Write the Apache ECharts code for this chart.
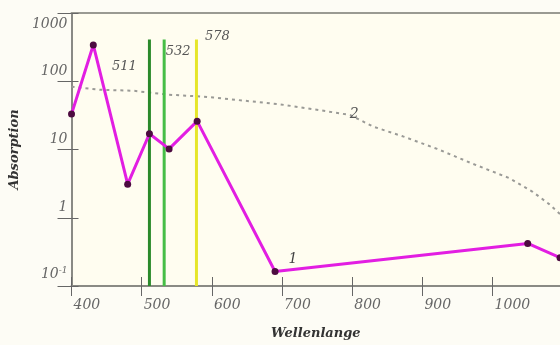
<!DOCTYPE html>
<html>
<head>
<meta charset="utf-8">
<script src="https://cdn.jsdelivr.net/npm/echarts@6/dist/echarts.min.js"></script>
<style>
html,body{margin:0;padding:0;background:#fdfcf5;overflow:hidden;}
#c{width:560px;height:345px;}
</style>
</head>
<body>
<div id="c"></div>
<script>
// Curve 1 (absorption points)
const wavelengths1 = [400, 431, 480, 511, 539, 579, 690, 1050, 1096];
const absorption1 = [33, 340, 3.1, 17, 10.2, 26, 0.163, 0.42, 0.26];
// Curve 2 (dotted)
const wavelengths2 = [400, 441, 488, 537, 584, 602, 697, 754, 797, 830, 872, 921, 968, 1024, 1057, 1081, 1096];
const absorption2 = [83, 75, 72.6, 63.7, 59.7, 57.8, 45.9, 37.7, 32, 21.6, 15.6, 10.2, 6.4, 3.8, 2.4, 1.57, 1.13];
// Laser lines
const laserWavelengths = [511, 532, 578];
const laserLabels = ['511', '532', '578'];
const laserBottom = 0.1;
const laserTop = 410;
// Axis
const xMin = 400, xMax = 1096, xStep = 100;
const yMin = 0.1, yMax = 1000;
const curveLabels = ['1', '2'];
const curve1LabelIndex = 6;
const curve2LabelIndex = 8;

const labelFont = 'DejaVu Serif';
const laserColors = ['#2b8a2b', '#46be46', '#e6e62a'];
const laserLabelOffsets = [[-25, 27], [14, 12], [21, -3]];

const chart = echarts.init(document.getElementById('c'), null, {renderer: 'canvas', width: 560, height: 345});

const laserSeries = laserWavelengths.map((w, i) => ({
  type: 'line',
  xAxisIndex: 0, yAxisIndex: 0,
  data: [[w, laserBottom], {value: [w, laserTop], label: {
    show: true, formatter: laserLabels[i], position: 'inside', offset: laserLabelOffsets[i],
    fontFamily: labelFont, fontStyle: 'italic', fontSize: 13, color: '#555'
  }}],
  showSymbol: true, symbol: 'circle', symbolSize: 0,
  lineStyle: {color: laserColors[i], width: 3},
  itemStyle: {color: laserColors[i]},
  silent: true, animation: false, z: 3
}));

const option = {
  animation: false,
  backgroundColor: '#fdfcf5',
  grid: {left: 71, top: 13, width: 489, height: 281, show: true, backgroundColor: '#fffdf0', borderWidth: 0},
  xAxis: [{
    type: 'value', min: xMin, max: xMax, interval: xStep,
    name: 'Wellenlange', nameLocation: 'middle', nameGap: 41,
    nameTextStyle: {fontFamily: labelFont, fontStyle: 'italic', fontWeight: 'bold', fontSize: 13, color: '#333'},
    axisLine: {lineStyle: {color: '#8a8a84', width: 2}},
    axisTick: {show: true, inside: false, length: 10, lineStyle: {color: '#666', width: 1}},
    axisLabel: {
      formatter: v => (v % 100 === 0 ? String(v) : ''), showMaxLabel: false,
      align: 'left', margin: 12, padding: [0, 0, 0, 2],
      fontFamily: labelFont, fontStyle: 'italic', fontSize: 14, color: '#666'
    },
    splitLine: {show: false}
  }, {
    type: 'value', min: xMin, max: xMax, interval: xStep, position: 'bottom',
    axisLine: {show: false},
    axisTick: {show: true, inside: true, length: 9, lineStyle: {color: '#666', width: 1}},
    axisLabel: {show: false}, splitLine: {show: false}
  }, {
    type: 'value', min: xMin, max: xMax, interval: xStep, position: 'top',
    axisLine: {show: true, lineStyle: {color: '#9a9a92', width: 2}},
    axisTick: {show: false}, axisLabel: {show: false}, splitLine: {show: false}
  }],
  yAxis: [{
    type: 'log', logBase: 10, min: yMin, max: yMax,
    name: 'Absorption', nameLocation: 'middle', nameGap: 42, nameRotate: 90,
    nameTextStyle: {fontFamily: labelFont, fontStyle: 'italic', fontWeight: 'bold', fontSize: 13, color: '#333'},
    axisLine: {lineStyle: {color: '#8a8a84', width: 2}},
    axisTick: {show: true, inside: false, length: 14, lineStyle: {color: '#666', width: 1}},
    axisLabel: {
      margin: 4, verticalAlign: 'bottom', verticalAlignMaxLabel: 'top',
      padding: [4, 0, 3, 0],
      fontFamily: labelFont, fontStyle: 'italic', fontSize: 14, color: '#666',
      formatter: v => {
        const e = Math.round(Math.log10(v));
        if (e < 0) return '10{s|' + e + '}';
        return String(Math.round(v));
      },
      rich: {s: {fontFamily: labelFont, fontStyle: 'italic', fontSize: 9, color: '#666', verticalAlign: 'top', padding: [0, 0, 8, 0]}}
    },
    splitLine: {show: false}
  }, {
    type: 'log', logBase: 10, min: yMin, max: yMax, position: 'left',
    axisLine: {show: false},
    axisTick: {show: true, inside: true, length: 7, lineStyle: {color: '#666', width: 1}},
    axisLabel: {show: false}, splitLine: {show: false}
  }],
  series: [{
    type: 'line',
    data: wavelengths2.map((w, i) => i === curve2LabelIndex ? {value: [w, absorption2[i]], label: {
      show: true, formatter: curveLabels[1], position: 'inside', offset: [4, -1],
      fontFamily: labelFont, fontStyle: 'italic', fontSize: 14, color: '#555'
    }} : [w, absorption2[i]]),
    showSymbol: true, symbol: 'circle', symbolSize: 0,
    lineStyle: {color: '#9a9a96', width: 2, type: [3, 4]},
    itemStyle: {color: '#9a9a96'},
    z: 2
  }].concat(laserSeries).concat([{
    type: 'line',
    data: wavelengths1.map((w, i) => i === curve1LabelIndex ? {value: [w, absorption1[i]], label: {
      show: true, formatter: curveLabels[0], position: 'inside', offset: [18, -12],
      fontFamily: labelFont, fontStyle: 'italic', fontSize: 14, color: '#444'
    }} : [w, absorption1[i]]),
    symbol: 'circle', symbolSize: 7, showSymbol: true,
    lineStyle: {color: '#e21ee2', width: 3},
    itemStyle: {color: '#4d0b40', borderWidth: 0},
    z: 5
  }])
};
chart.setOption(option);
</script>
</body>
</html>
